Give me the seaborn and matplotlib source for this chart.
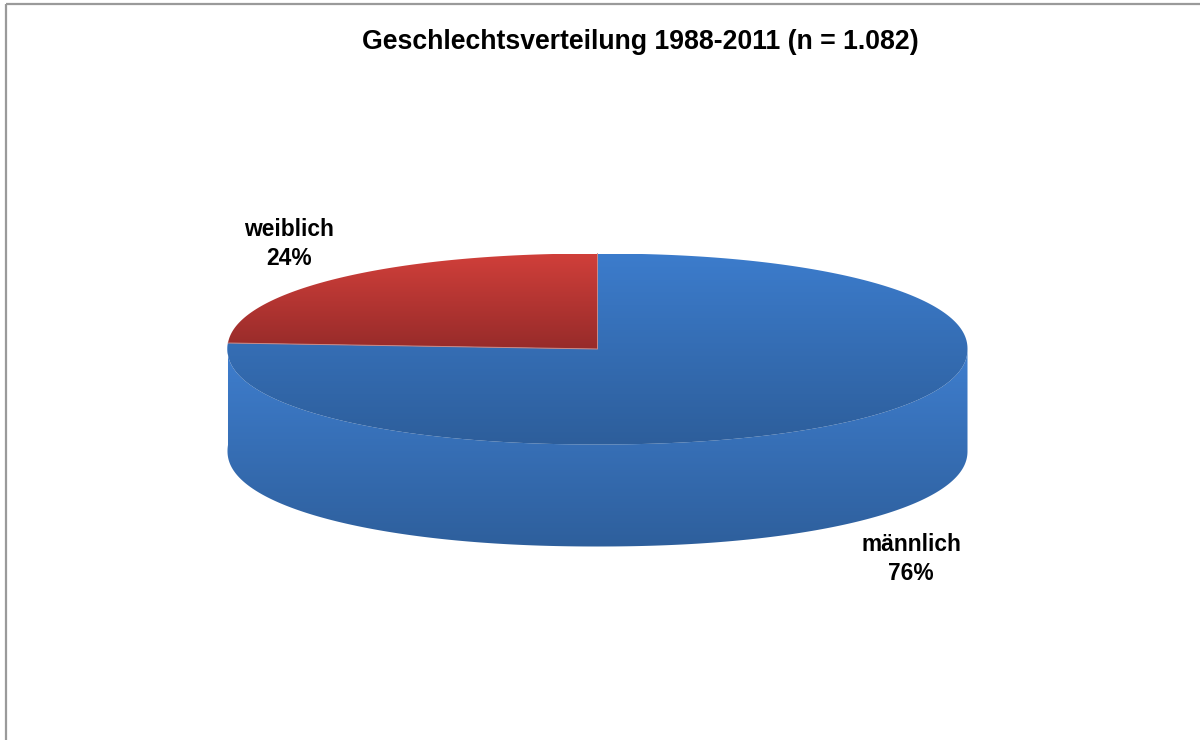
import numpy as np
import matplotlib
matplotlib.use("Agg")
import matplotlib.pyplot as plt
from matplotlib.patches import PathPatch, Rectangle
from matplotlib.path import Path
from matplotlib.colors import LinearSegmentedColormap
import seaborn as sns

categories = ['männlich', 'weiblich']
shares = [76, 24]
title = 'Geschlechtsverteilung 1988-2011 (n = 1.082)'

sns.set_theme(style='white')
plt.rcParams['font.family'] = ['Liberation Sans', 'DejaVu Sans']

# pie geometry in pixels
cx, cy = 597.5, 349
rx, ry = 370, 95.5
depth = 102
squash = 2.12  # the disc is a bit fuller than a true ellipse


def rim(a0, a1, n=300):
    # angles clockwise from 12 o'clock
    a = np.radians(np.linspace(a0, a1, n))
    s, c = np.sin(a), np.cos(a)
    r = (np.abs(s) ** squash + np.abs(c) ** squash) ** (-1 / squash)
    return cx + rx * r * s, cy - ry * r * c


def fill_gradient(ax, x, y, top, bottom, y0, y1, z):
    pts = np.column_stack([x, y])
    patch = PathPatch(Path(np.vstack([pts, pts[0]]), closed=True), fc='none', ec='none', zorder=z)
    ax.add_patch(patch)
    cmap = LinearSegmentedColormap.from_list('g', [top, bottom])
    im = ax.imshow(np.linspace(0, 1, 256).reshape(-1, 1), cmap=cmap, aspect='auto',
                   extent=(0, 1200, y1, y0), interpolation='bilinear', zorder=z)
    im.set_clip_path(patch)


fig, ax = plt.subplots(figsize=(12, 7.4), dpi=100)
ax.set_position([0, 0, 1, 1])

# slice angles from the values
male_end = shares[0] / sum(shares) * 360

# side wall, only the front part of the rim is visible
sx, sy = rim(90, male_end)
wall_x = np.concatenate([sx, sx[::-1]])
wall_y = np.concatenate([sy, sy[::-1] + depth])
fill_gradient(ax, wall_x, wall_y, '#3F7FD0', '#2E5F9C', 343, 547, 2)

# top faces
mx, my = rim(0, male_end)
fill_gradient(ax, np.append(mx, cx), np.append(my, cy), '#3C7CCC', '#2D5E9B', 254, 445, 3)
fx, fy = rim(male_end, 360)
fill_gradient(ax, np.append(fx, cx), np.append(fy, cy), '#D03F3A', '#972B2A', 254, 349, 4)

# thin light edge between the slices
ax.plot([fx[0], cx, fx[-1]], [fy[0], cy, fy[-1]], color='#c98a88', lw=0.7, zorder=5)

ax.add_patch(Rectangle((5.5, 4), 1400, 900, fc='none', ec='#9a9a9a', lw=1.6, zorder=6))

ax.set_xlim(0, 1200)
ax.set_ylim(740, 0)
ax.axis('off')

ax.text(640, 42, title, ha='center', va='center', fontsize=19.2, fontweight='bold', color='black')
ax.text(289, 244, f'{categories[1]}\n{shares[1]}%', ha='center', va='center', fontsize=16.4,
        fontweight='bold', color='black', linespacing=1.36)
ax.text(911, 559, f'{categories[0]}\n{shares[0]}%', ha='center', va='center', fontsize=16.4,
        fontweight='bold', color='black', linespacing=1.36)

fig.savefig('out.png', dpi=100)
